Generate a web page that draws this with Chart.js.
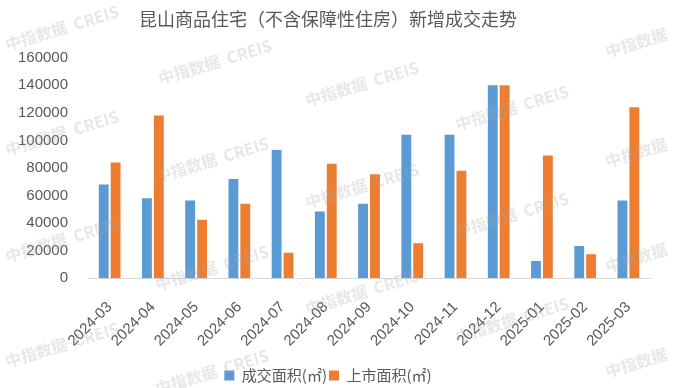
<!DOCTYPE html>
<html>
<head>
<meta charset="utf-8">
<script src="https://cdn.jsdelivr.net/npm/chart.js@4.4.0/dist/chart.umd.min.js"></script>
<style>
  html, body { margin: 0; padding: 0; background: #fff; }
  #wrap { width: 673px; height: 388px; }
</style>
</head>
<body>
<div id="wrap"><canvas id="chart" width="673" height="388"></canvas></div>
<script>
// 月份
const months = ["2024-03", "2024-04", "2024-05", "2024-06", "2024-07", "2024-08", "2024-09",
  "2024-10", "2024-11", "2024-12", "2025-01", "2025-02", "2025-03"];
// 成交面积(㎡)
const dealArea = [68000, 58000, 56500, 72000, 93000, 48500, 54000, 104000, 104000, 140000, 12500, 23500, 56500];
// 上市面积(㎡)
const supplyArea = [84000, 118000, 42500, 54000, 18500, 83000, 75500, 25500, 78000, 140000, 89000, 17500, 124000];
const yMax = 160000;
const yStep = 20000;

// 水印
const watermark = {
  id: "watermark",
  afterDraw(chart) {
    const ctx = chart.ctx;
    const spots = [
      [62, 28], [215, 62], [362, 84], [512, 108], [662, 35],
      [62, 133], [212, 160], [362, 186], [512, 215], [662, 145],
      [62, 240], [212, 268], [362, 292], [512, 320], [662, 250],
      [62, 345], [212, 372], [662, 355]
    ];
    ctx.save();
    ctx.font = "bold 16px 'Noto Sans CJK SC', 'Noto Sans'";
    ctx.fillStyle = "rgba(170,170,170,0.28)";
    ctx.textAlign = "center";
    ctx.textBaseline = "middle";
    spots.forEach(([x, y]) => {
      ctx.save();
      ctx.translate(x, y);
      ctx.rotate(-17 * Math.PI / 180);
      ctx.fillText("中指数据  CREIS", 0, 0);
      ctx.restore();
    });
    ctx.restore();
  }
};

const ctx = document.getElementById("chart").getContext("2d");
new Chart(ctx, {
  type: "bar",
  data: {
    labels: months,
    datasets: [
      {
        label: "成交面积(㎡)",
        data: dealArea,
        backgroundColor: "#5B9BD5",
        categoryPercentage: 0.55,
        barPercentage: 0.83
      },
      {
        label: "上市面积(㎡)",
        data: supplyArea,
        backgroundColor: "#ED7D31",
        categoryPercentage: 0.55,
        barPercentage: 0.83
      }
    ]
  },
  options: {
    responsive: false,
    animation: false,
    layout: { padding: { left: 6, right: 23, top: 0, bottom: -5 } },
    plugins: {
      title: {
        display: true,
        text: "昆山商品住宅（不含保障性住房）新增成交走势",
        color: "#595959",
        font: { family: "'Noto Sans CJK SC'", size: 18, weight: "normal" },
        padding: { top: 8, bottom: 28 }
      },
      legend: {
        position: "bottom",
        labels: {
          color: "#595959",
          font: { family: "'Noto Sans CJK SC'", size: 15 },
          boxWidth: 10,
          boxHeight: 10,
          padding: 2
        }
      },
      tooltip: { enabled: false }
    },
    scales: {
      x: {
        grid: { display: false },
        border: { display: true, color: "#D9D9D9", width: 1 },
        ticks: {
          color: "#595959",
          font: { family: "'Liberation Sans'", size: 15 },
          minRotation: 45,
          maxRotation: 45,
          padding: 12
        },
        afterFit: (scale) => { scale.height = scale.height + 4; scale.paddingLeft = 0; }
      },
      y: {
        min: 0,
        max: yMax,
        grid: { display: false },
        border: { display: false },
        ticks: {
          stepSize: yStep,
          color: "#595959",
          font: { family: "'Liberation Sans'", size: 15 },
          padding: 12,
          callback: (v) => String(v)
        }
      }
    }
  },
  plugins: [watermark]
});
</script>
</body>
</html>
